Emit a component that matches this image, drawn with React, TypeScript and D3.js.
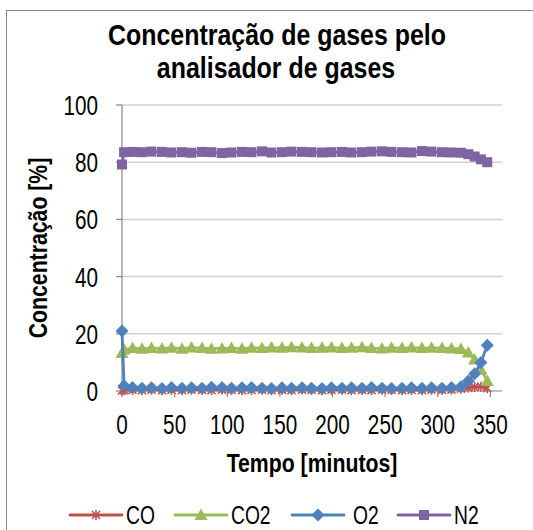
import React from "react";
import * as d3 from "d3";

// tempo [minutos]
const tempo = [0, 2, 10, 19, 28, 38, 47, 57, 66, 76, 85, 95, 104, 114, 123, 133, 142, 152, 161, 171,
  180, 190, 199, 209, 218, 228, 237, 247, 256, 266, 275, 285, 294, 304, 313, 322, 329, 335, 341, 347];

const co = [0.2, 0.3, 0.4, 0.3, 0.5, 0.3, 0.4, 0.3, 0.5, 0.4, 0.3, 0.5, 0.4, 0.3, 0.4, 0.5, 0.3, 0.4, 0.3, 0.5,
  0.4, 0.3, 0.4, 0.5, 0.3, 0.4, 0.3, 0.5, 0.4, 0.3, 0.4, 0.3, 0.5, 0.4, 0.5, 0.8, 1.2, 1.4, 1.5, 1.0];
const co2 = [13.3, 14.5, 15.0, 14.8, 15.0, 14.9, 15.1, 14.8, 15.2, 15.0, 14.8, 14.9, 15.0, 14.8, 15.1, 15.0, 15.2, 15.1, 15.3, 15.2,
  15.0, 15.1, 15.2, 15.0, 15.1, 15.3, 15.0, 14.9, 15.1, 15.0, 15.2, 15.0, 15.1, 15.0, 14.9, 14.7, 13.5, 11.0, 7.5, 3.5];
const o2 = [21.0, 1.8, 1.2, 1.0, 1.1, 0.9, 1.2, 1.0, 1.1, 1.0, 1.3, 1.2, 1.0, 1.1, 1.2, 1.0, 0.9, 1.1, 1.0, 1.1,
  1.0, 0.9, 1.1, 1.0, 1.1, 1.0, 1.2, 1.0, 0.9, 1.0, 1.1, 1.0, 1.1, 1.0, 1.2, 1.5, 3.5, 6.0, 10.0, 16.0];
const n2 = [79.2, 83.5, 83.6, 83.5, 83.7, 83.6, 83.4, 83.5, 83.3, 83.6, 83.5, 83.2, 83.4, 83.6, 83.5, 83.8, 83.4, 83.5, 83.7, 83.6,
  83.5, 83.4, 83.5, 83.6, 83.4, 83.5, 83.7, 83.8, 83.6, 83.5, 83.4, 83.9, 83.7, 83.5, 83.4, 83.3, 82.8, 82.0, 81.0, 80.0];

const xTicks = [0, 50, 100, 150, 200, 250, 300, 350];
const yTicks = [0, 20, 40, 60, 80, 100];

const series = [
  { name: "CO", values: co, color: "#C0504D", marker: "star" },
  { name: "CO2", values: co2, color: "#9BBB59", marker: "triangle" },
  { name: "O2", values: o2, color: "#4F81BD", marker: "diamond" },
  { name: "N2", values: n2, color: "#8064A2", marker: "square" },
];

const FONT = "'Liberation Sans', Arial, sans-serif";

function Marker({ type, x, y, color }: { type: string; x: number; y: number; color: string }) {
  if (type === "star") {
    const r = 4;
    return (
      <g stroke={color} strokeWidth={1.6}>
        <line x1={x - r} y1={y - r} x2={x + r} y2={y + r} />
        <line x1={x - r} y1={y + r} x2={x + r} y2={y - r} />
        <line x1={x} y1={y - r - 1} x2={x} y2={y + r + 1} />
      </g>
    );
  }
  if (type === "triangle") {
    return <path d={`M${x},${y - 6.5}L${x + 6.5},${y + 5}L${x - 6.5},${y + 5}Z`} fill={color} />;
  }
  if (type === "diamond") {
    return <path d={`M${x},${y - 6.5}L${x + 6.5},${y}L${x},${y + 6.5}L${x - 6.5},${y}Z`} fill={color} />;
  }
  return <rect x={x - 5} y={y - 5} width={10} height={10} fill={color} />;
}

function SText({ x, y, sx, size, bold, anchor, rotate, children }: any) {
  const t = `translate(${x},${y})${rotate ? ` rotate(${rotate})` : ""} scale(${sx},1)`;
  return (
    <text transform={t} fontSize={size} fontWeight={bold ? "bold" : "normal"} textAnchor={anchor || "middle"}
      fontFamily={FONT} fill="#000">
      {children}
    </text>
  );
}

export default function App() {
  const width = 533;
  const height = 530;
  const x = d3.scaleLinear([0, 361], [122, 502]);
  const y = d3.scaleLinear([0, 100], [391, 105]);
  const line = d3.line<number>((_, i) => x(tempo[i]), (d) => y(d));

  const legendX = [70, 175, 292, 398];

  return (
    <svg width={width} height={height} style={{ position: "absolute", left: 0, top: 0 }}>
      <rect x={0} y={0} width={width} height={height} fill="#fff" />
      <rect x={6.5} y={10.5} width={600} height={600} fill="#fff" stroke="#868686" strokeWidth={1} />

      <SText x={277} y={45} sx={0.86} size={29} bold>Concentração de gases pelo</SText>
      <SText x={276} y={78} sx={0.86} size={29} bold>analisador de gases</SText>

      {yTicks.map((t) => (
        <g key={t}>
          {t > 0 && <line x1={122} x2={502} y1={y(t)} y2={y(t)} stroke="#d0d0d0" strokeWidth={1.5} />}
          <line x1={116} x2={122} y1={y(t)} y2={y(t)} stroke="#868686" strokeWidth={1.2} />
          <SText x={98} y={y(t) + 10} sx={0.74} size={28} anchor="end">{t}</SText>
        </g>
      ))}
      <line x1={122} x2={122} y1={105} y2={391} stroke="#868686" strokeWidth={1.2} />
      <line x1={122} x2={502} y1={391} y2={391} stroke="#868686" strokeWidth={1.2} />
      {xTicks.map((t) => (
        <g key={t}>
          <line x1={x(t)} x2={x(t)} y1={391} y2={397} stroke="#868686" strokeWidth={1.2} />
          <SText x={x(t)} y={434} sx={0.74} size={28}>{t}</SText>
        </g>
      ))}

      <SText x={312} y={472} sx={0.85} size={25} bold>Tempo [minutos]</SText>
      <SText x={47} y={248} sx={0.85} size={25} bold rotate={-90}>Concentração [%]</SText>

      {series.map((s) => (
        <g key={s.name}>
          <path d={line(s.values) || ""} fill="none" stroke={s.color} strokeWidth={2.8} strokeLinejoin="round" />
          {s.values.map((v, i) => (
            <Marker key={i} type={s.marker} x={x(tempo[i])} y={y(v)} color={s.color} />
          ))}
        </g>
      ))}

      {series.map((s, i) => (
        <g key={s.name}>
          <line x1={legendX[i]} x2={legendX[i] + 52} y1={515} y2={515} stroke={s.color} strokeWidth={2.8} strokeLinecap="round" />
          <Marker type={s.marker} x={legendX[i] + 26} y={515} color={s.color} />
          <SText x={legendX[i] + (s.name === "O2" ? 61 : 56)} y={524} sx={0.77} size={25} anchor="start">{s.name}</SText>
        </g>
      ))}
    </svg>
  );
}
